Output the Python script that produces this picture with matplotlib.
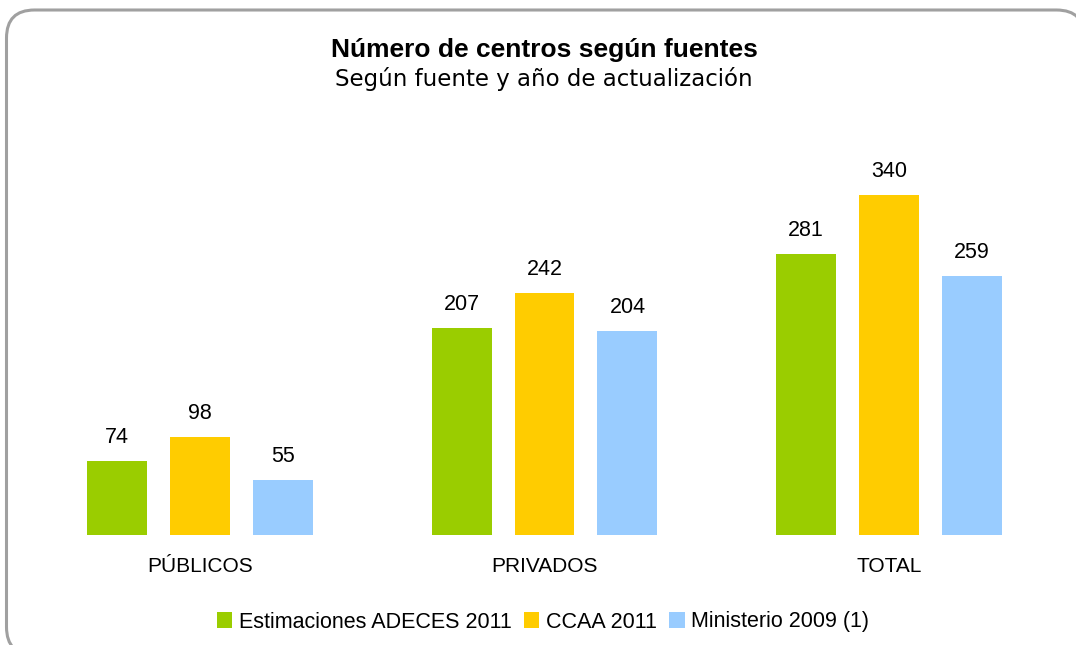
import numpy as np
import matplotlib.pyplot as plt
from matplotlib.patches import FancyBboxPatch

categorias = ["PÚBLICOS", "PRIVADOS", "TOTAL"]
series = ["Estimaciones ADECES 2011", "CCAA 2011", "Ministerio 2009 (1)"]
adeces = [74, 207, 281]
ccaa = [98, 242, 340]
ministerio = [55, 204, 259]
colores = ["#9ACD00", "#FFCC00", "#99CCFF"]

W, H = 1076, 645
fig = plt.figure(figsize=(W / 100, H / 100), dpi=100)

# marco redondeado (en pulgadas para que las esquinas sean circulares)
marco = FancyBboxPatch((0.065, -0.1), 10.78, 6.45,
                       boxstyle="round,pad=0,rounding_size=0.28",
                       transform=fig.dpi_scale_trans, facecolor="white",
                       edgecolor="#A0A0A0", linewidth=2.2, zorder=-5)
fig.patches.append(marco)

ax = fig.add_axes([28 / W, 1 - 535 / H, (1061 - 28) / W, 400 / H])
ax.set_facecolor("none")
ax.set_zorder(2)

x = np.arange(len(categorias))
ancho = 60 / 344.5
paso = 83 / 344.5
for i, (vals, nombre) in enumerate(zip([adeces, ccaa, ministerio], series)):
    barras = ax.bar(x + (i - 1) * paso, vals, ancho, color=colores[i], label=nombre)
    for b, v in zip(barras, vals):
        ax.text(b.get_x() + b.get_width() / 2, v + 18, str(v), ha="center",
                va="baseline", fontsize=15.5, family="Liberation Sans")

ax.set_xlim(-0.5, 2.5)
ax.set_ylim(0, 400)
ax.set_yticks([])
ax.set_xticks([])
for i, c in enumerate(categorias):
    ax.text(x[i], -36.5, c, ha="center", va="baseline", fontsize=15,
            family="Liberation Sans")
for s in ax.spines.values():
    s.set_visible(False)

fig.text(544 / W, 1 - 57 / H, "Número de centros según fuentes", ha="center",
         va="baseline", fontsize=19, fontweight="bold", family="Liberation Sans")
fig.text(544 / W, 1 - 86 / H, "Según fuente y año de actualización", ha="center",
         va="baseline", fontsize=16.5, family="DejaVu Sans")

fig.legend(loc="center", bbox_to_anchor=(543 / W, 1 - 622 / H), ncol=3,
           frameon=False, prop={"family": "Liberation Sans", "size": 15.5},
           handlelength=0.7, handleheight=0.7, handletextpad=0.3, columnspacing=0.6)

fig.savefig("out.png", dpi=100)
